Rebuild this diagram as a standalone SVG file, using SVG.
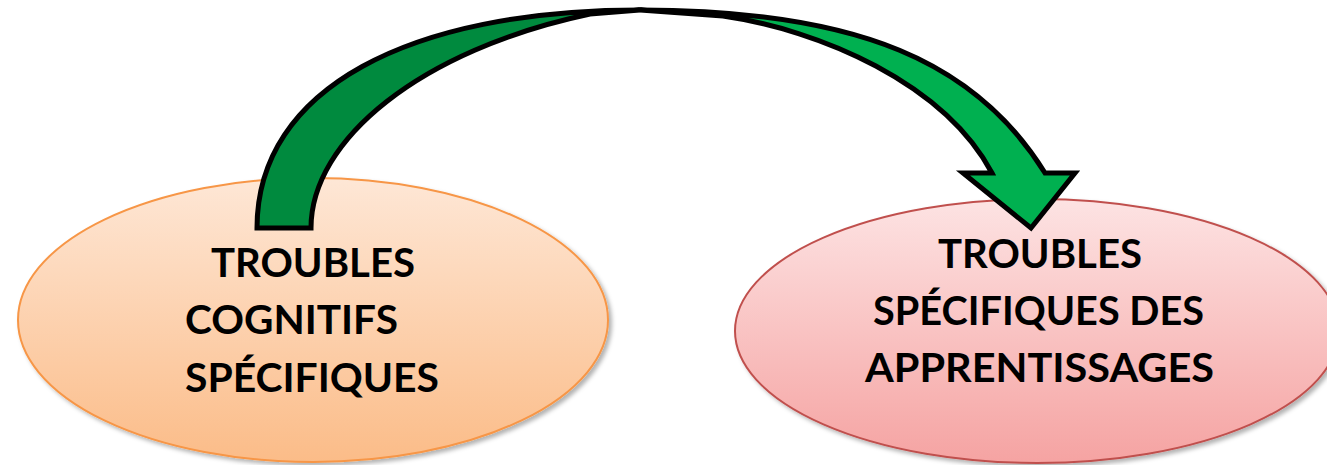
<svg xmlns="http://www.w3.org/2000/svg" width="1327" height="465" viewBox="0 0 1327 465">
  <defs>
    <linearGradient id="gOrange" x1="0" y1="0" x2="0" y2="1">
      <stop offset="0" stop-color="#FEE7D6"/>
      <stop offset="1" stop-color="#FBBC88"/>
    </linearGradient>
    <linearGradient id="gRed" x1="0" y1="0" x2="0" y2="1">
      <stop offset="0" stop-color="#FDE3E3"/>
      <stop offset="1" stop-color="#F5A3A2"/>
    </linearGradient>
    <filter id="shadow" x="-10%" y="-10%" width="125%" height="130%">
      <feDropShadow dx="3" dy="3" stdDeviation="2" flood-color="#000000" flood-opacity="0.3"/>
    </filter>
  </defs>
  <style>
    .lbl { font-family: "Lato", "Open Sans", "Liberation Sans", sans-serif; font-weight: bold; font-size: 41px; fill: #000000; }
    .arrow { stroke: #000000; stroke-width: 5; stroke-linejoin: miter; stroke-miterlimit: 10; }
  </style>
  <rect width="1327" height="465" fill="#FFFFFF"/>

  <g id="node-cognitifs">
    <ellipse cx="313" cy="320" rx="295" ry="142" fill="url(#gOrange)" stroke="#F79646" stroke-width="2" filter="url(#shadow)"/>
  </g>
  <g id="node-apprentissages">
    <ellipse cx="1037" cy="331" rx="302" ry="132" fill="url(#gRed)" stroke="#C0504D" stroke-width="2" filter="url(#shadow)"/>
  </g>

  <g id="connectors">
    <path class="arrow" fill="#008A3E" d="M 257,228 C 257,88 410,10 640,10 L 590,14 C 420,50 311,140 311,228 Z"/>
    <path class="arrow" fill="#00B050" d="M 640,10 C 860,10 977,63 1045,173 L 1075,173 L 1031,228 L 963,173 L 992,173 C 944,83 820,30 723,16 Z"/>
  </g>

  <g id="labels-cognitifs">
    <text class="lbl" x="211" y="277" textLength="204" lengthAdjust="spacingAndGlyphs">TROUBLES</text>
    <text class="lbl" x="185" y="334" textLength="213" lengthAdjust="spacingAndGlyphs">COGNITIFS</text>
    <text class="lbl" x="185" y="392" textLength="254" lengthAdjust="spacingAndGlyphs">SPÉCIFIQUES</text>
  </g>
  <g id="labels-apprentissages">
    <text class="lbl" x="938" y="268" textLength="204" lengthAdjust="spacingAndGlyphs">TROUBLES</text>
    <text class="lbl" x="873" y="325" textLength="331" lengthAdjust="spacingAndGlyphs">SPÉCIFIQUES DES</text>
    <text class="lbl" x="865" y="382" textLength="349" lengthAdjust="spacingAndGlyphs">APPRENTISSAGES</text>
  </g>
</svg>
